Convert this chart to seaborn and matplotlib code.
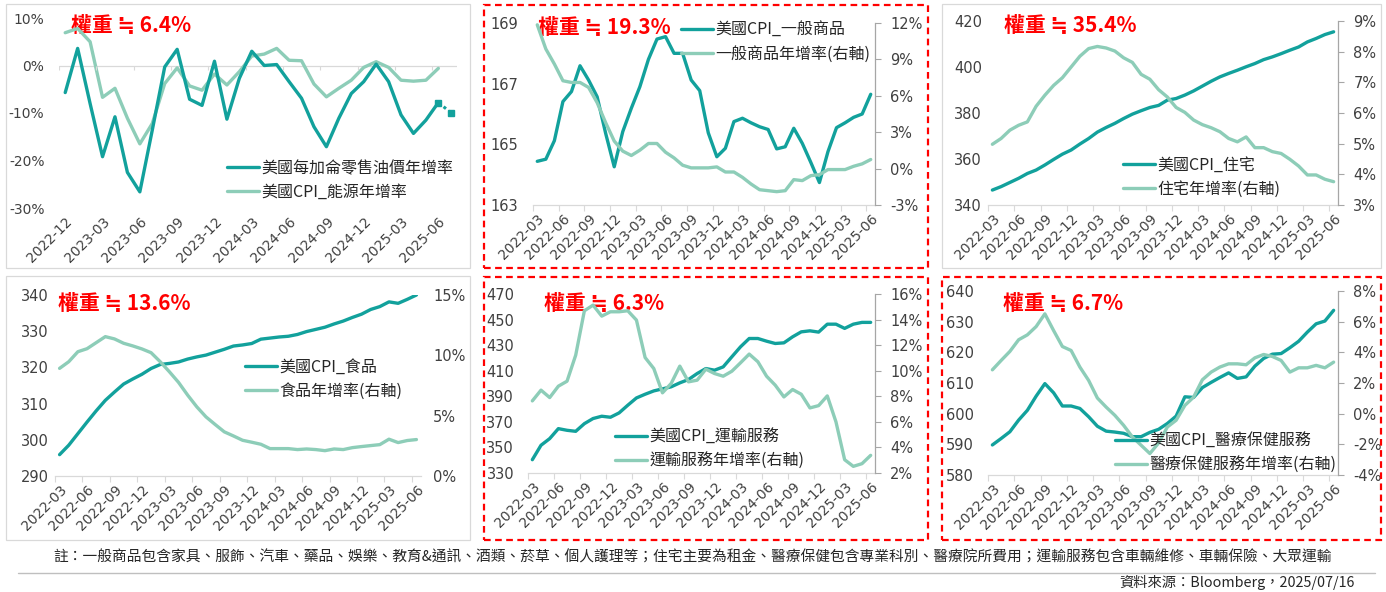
import numpy as np
import pandas as pd
import matplotlib.pyplot as plt
import seaborn as sns
from matplotlib.lines import Line2D
from matplotlib.patches import Rectangle

sns.set_theme(style="white")
plt.rcParams['font.family'] = ['Noto Sans CJK TC', 'DejaVu Sans']
plt.rcParams['axes.unicode_minus'] = False

DARK = "#12A19C"
LIGHT = "#8DCDB8"
TICK = "#404040"
NUMFONT = "DejaVu Sans"

# month labels
months_oil = pd.period_range("2022-12", "2025-07", freq="M").strftime("%Y-%m").tolist()
months = pd.period_range("2022-03", "2025-06", freq="M").strftime("%Y-%m").tolist()

# panel 1: energy
oil_yoy = [-5.7, 3.6, -8.0, -19.2, -10.8, -22.5, -26.6, -13.6, -0.3, 3.4, -7.1, -8.4,
           0.9, -11.3, -2.7, 3.0, 0.0, 0.2, -3.4, -6.9, -12.9, -17.1, -11.1, -5.9,
           -3.4, 0.3, -3.4, -10.4, -14.3, -11.5, -7.8, -9.9]
energy_yoy = [6.9, 7.8, 5.0, -6.7, -4.8, -11.1, -16.5, -12.2, -3.8, -0.5, -4.3, -5.2,
              -1.8, -4.1, -1.3, 2.0, 2.4, 3.6, 1.1, 1.0, -3.9, -6.6, -4.8, -3.1,
              -0.4, 0.8, -0.4, -3.1, -3.3, -3.1, -0.6, np.nan]

# panel 2: core goods
goods_idx = [164.44, 164.51, 165.12, 166.41, 166.74, 167.59, 167.12, 166.57, 165.36, 164.26,
             165.42, 166.19, 166.90, 167.80, 168.47, 168.55, 168.0, 168.0, 167.12, 166.77,
             165.38, 164.59, 164.87, 165.75, 165.86, 165.71, 165.58, 165.49, 164.85, 164.92,
             165.53, 165.03, 164.40, 163.74, 164.76, 165.55, 165.71, 165.89, 166.0, 166.65]
goods_yoy = [11.85, 9.86, 8.62, 7.24, 7.1, 7.1, 6.69, 5.44, 3.78, 2.27,
             1.44, 1.08, 1.52, 2.07, 2.07, 1.35, 0.88, 0.28, 0.06, 0.06,
             0.06, 0.14, -0.28, -0.28, -0.72, -1.27, -1.74, -1.82, -1.9, -1.82,
             -0.91, -0.99, -0.58, -0.5, -0.08, -0.08, -0.08, 0.19, 0.39, 0.75]

# panel 3: shelter
shelter_idx = [346.5, 348.0, 349.8, 351.6, 353.7, 355.2, 357.4, 359.8, 362.1, 363.9,
               366.5, 368.9, 371.7, 373.7, 375.5, 377.6, 379.5, 381.0, 382.4, 383.3,
               385.6, 386.3, 387.8, 389.6, 391.7, 393.8, 395.7, 397.2, 398.6, 400.1,
               401.5, 403.2, 404.4, 405.8, 407.3, 408.7, 410.9, 412.4, 414.1, 415.3]
shelter_yoy = [4.98, 5.17, 5.44, 5.6, 5.71, 6.22, 6.58, 6.9, 7.15, 7.5,
               7.85, 8.1, 8.17, 8.12, 8.02, 7.8, 7.65, 7.26, 7.1, 6.76,
               6.52, 6.18, 6.02, 5.77, 5.62, 5.52, 5.39, 5.17, 5.06, 5.22,
               4.87, 4.87, 4.74, 4.68, 4.49, 4.27, 3.98, 3.98, 3.84, 3.76]

# panel 4: food
food_idx = [295.9, 298.5, 301.7, 304.9, 308.0, 310.9, 313.2, 315.4, 316.8, 318.1,
            319.7, 320.8, 321.1, 321.5, 322.3, 322.9, 323.4, 324.2, 325.0, 325.9,
            326.2, 326.6, 327.8, 328.1, 328.4, 328.6, 329.1, 329.9, 330.5, 331.1,
            332.0, 332.8, 333.8, 334.7, 336.0, 336.8, 338.1, 337.7, 338.8, 340.0]
food_yoy = [8.92, 9.47, 10.3, 10.55, 11.05, 11.55, 11.36, 11.0, 10.78, 10.53,
            10.22, 9.47, 8.64, 7.76, 6.7, 5.73, 4.9, 4.27, 3.66, 3.32,
            2.96, 2.8, 2.63, 2.27, 2.27, 2.27, 2.19, 2.24, 2.19, 2.1,
            2.24, 2.19, 2.35, 2.44, 2.52, 2.6, 3.05, 2.77, 2.94, 3.02]

# panel 5: transportation services
transport_idx = [340.4, 351.7, 356.9, 364.7, 363.4, 362.6, 368.6, 372.6, 374.4, 373.6,
                 377.0, 383.0, 388.7, 391.6, 394.2, 395.8, 397.4, 400.5, 403.1, 407.8,
                 411.7, 410.4, 413.0, 420.9, 428.7, 435.2, 435.2, 433.1, 431.3, 431.8,
                 436.5, 440.4, 441.2, 440.2, 446.4, 446.4, 443.1, 446.4, 447.8, 447.8]
transport_yoy = [7.64, 8.48, 7.9, 8.79, 9.18, 11.22, 14.69, 15.13, 14.27, 14.61,
                 14.61, 14.69, 13.96, 11.03, 10.17, 8.27, 9.0, 10.36, 9.13, 9.26,
                 10.12, 9.78, 9.57, 9.96, 10.62, 11.3, 10.7, 9.57, 8.87, 7.95,
                 8.53, 8.16, 7.09, 7.27, 8.03, 6.0, 3.04, 2.52, 2.73, 3.38]

# panel 6: medical care services
medical_idx = [589.8, 591.9, 594.1, 597.9, 601.1, 605.7, 609.8, 606.8, 602.5, 602.5,
               601.7, 599.0, 595.9, 594.3, 594.0, 593.6, 592.5, 592.5, 593.9, 594.9,
               596.8, 599.2, 605.5, 605.3, 608.5, 610.2, 611.8, 613.3, 611.5, 612.0,
               615.5, 618.0, 619.4, 619.6, 621.5, 623.6, 626.6, 629.3, 630.2, 633.7]
medical_yoy = [2.86, 3.47, 4.06, 4.82, 5.14, 5.68, 6.51, 5.42, 4.38, 4.12,
               3.04, 2.17, 1.02, 0.43, -0.11, -0.76, -1.52, -2.06, -2.6, -1.91,
               -0.87, -0.43, 0.54, 1.08, 2.21, 2.71, 3.04, 3.25, 3.25, 3.19,
               3.64, 3.86, 3.73, 3.47, 2.71, 2.99, 2.99, 3.15, 2.99, 3.36]

note = ("註：一般商品包含家具、服飾、汽車、藥品、娛樂、教育&通訊、酒類、菸草、個人護理等；"
        "住宅主要為租金、醫療保健包含專業科別、醫療院所費用；運輸服務包含車輛維修、車輛保險、大眾運輸")
source = "資料來源：Bloomberg，2025/07/16"

W, H = 1386, 592
fig = plt.figure(figsize=(W / 100, H / 100), dpi=100)
fig.patch.set_facecolor("white")


def rect(l, t, r, b):
    return [l / W, 1 - b / H, (r - l) / W, (b - t) / H]


def set_y(ax, lim, step, suffix="", size=10.5):
    vals = np.arange(lim[0], lim[1] + step * 0.01, step)
    ax.set_ylim(*lim)
    ax.set_yticks(vals, [f"{v:.0f}{suffix}" for v in vals], fontfamily=NUMFONT,
                  fontsize=size, color=TICK)


def box(l, t, r, b, red):
    if red:
        p = Rectangle((l / W, 1 - b / H), (r - l) / W, (b - t) / H, transform=fig.transFigure,
                      fill=False, edgecolor="#FF0000", lw=1.6, linestyle=(0, (3, 2)))
    else:
        p = Rectangle((l / W, 1 - b / H), (r - l) / W, (b - t) / H, transform=fig.transFigure,
                      fill=False, edgecolor="#D9D9D9", lw=0.9)
    fig.add_artist(p)


def style_x(ax, cats, bottom_line=True):
    n = len(cats)
    ax.set_xlim(-0.5, n - 0.5)
    major = list(range(0, n, 3))
    ax.set_xticks(major, [cats[i] for i in major], rotation=45, ha="right",
                  rotation_mode="anchor", fontsize=10, color=TICK, fontfamily=NUMFONT)
    ax.tick_params(axis="x", which="major", length=0, pad=5)
    if bottom_line:
        ax.set_xticks([i - 0.5 for i in major], minor=True)
        ax.tick_params(axis="x", which="minor", length=4, color="#D9D9D9", width=0.8,
                       direction="out", bottom=True)
        ax.spines["bottom"].set_color("#D9D9D9")
        ax.spines["bottom"].set_linewidth(0.9)
    else:
        ax.spines["bottom"].set_visible(False)
    ax.set_xlabel("")


def add_title(ax, text, x, y):
    ax.text(x / W, 1 - y / H, text, transform=fig.transFigure, color="#FF0000",
            fontsize=15, fontweight="bold", ha="left", va="center", zorder=1)


def add_legend(ax, handles, x, y):
    ax.legend(handles=handles, loc="upper left", bbox_to_anchor=(x / W, 1 - y / H),
              bbox_transform=fig.transFigure, frameon=False, fontsize=11.5,
              handlelength=2.0, handletextpad=0.15, borderpad=0, borderaxespad=0,
              labelspacing=0.4, labelcolor="#262626")


# ---- panel 1 (single axis) ----
box(6, 4, 470, 268, red=False)
ax = fig.add_axes(rect(59, 18, 457, 208))
ax.patch.set_alpha(0)
df1 = pd.DataFrame({"x": range(len(months_oil)), "oil": oil_yoy, "energy": energy_yoy})
sns.lineplot(data=df1, x="x", y="energy", ax=ax, color=LIGHT, linewidth=2.4, legend=False)
sns.lineplot(data=df1.iloc[:-1], x="x", y="oil", ax=ax, color=DARK, linewidth=2.4, legend=False)
sns.lineplot(data=df1.iloc[-2:], x="x", y="oil", ax=ax, color=DARK, linewidth=2.2,
             linestyle=(0, (1, 1.2)), legend=False)
ax.plot(df1["x"].iloc[-2:], df1["oil"].iloc[-2:], linestyle="none", marker="s",
        markersize=5, color=DARK)
for ln in ax.get_lines():
    ln.set_solid_joinstyle("round")
set_y(ax, (-30, 10), 10, "%", size=10)
ax.tick_params(axis="y", length=0, pad=10.5)
ax.set_ylabel("")
style_x(ax, months_oil, bottom_line=False)
ax.axhline(0, color="#D9D9D9", lw=0.9, zorder=0.5)
ax.vlines([i - 0.5 for i in range(0, len(months_oil), 3)], -0.85, 0, color="#D9D9D9", lw=0.8)
for s in ["top", "left", "right"]:
    ax.spines[s].set_visible(False)
add_title(ax, "權重 ≒ 6.4%", 71, 25)
add_legend(ax, [Line2D([], [], color=DARK, lw=2.4, label="美國每加侖零售油價年增率"),
                Line2D([], [], color=LIGHT, lw=2.4, label="美國CPI_能源年增率")], 227, 160)


# ---- twin-axis panels ----
def panel(frame, red, area, idx, yoy, llim, lstep, rlim, rstep, lpad, rspine,
          title, tpos, labels, lpos):
    box(*frame, red=red)
    ax = fig.add_axes(rect(*area))
    ax.patch.set_alpha(0)
    df = pd.DataFrame({"x": range(len(months)), "idx": idx, "yoy": yoy})
    sns.lineplot(data=df, x="x", y="idx", ax=ax, color=DARK, linewidth=2.4, legend=False)
    set_y(ax, llim, lstep)
    ax.tick_params(axis="y", length=0, pad=lpad)
    ax.set_ylabel("")
    style_x(ax, months)
    for s in ["top", "left", "right"]:
        ax.spines[s].set_visible(False)

    ax2 = ax.twinx()
    sns.lineplot(data=df, x="x", y="yoy", ax=ax2, color=LIGHT, linewidth=2.4, legend=False)
    set_y(ax2, rlim, rstep, "%")
    ax2.set_ylabel("")
    for s in ["top", "left", "bottom"]:
        ax2.spines[s].set_visible(False)
    if rspine:
        ax2.spines["right"].set_color("#A6A6A6")
        ax2.spines["right"].set_linewidth(0.9)
        ax2.tick_params(axis="y", length=4, width=0.8, color="#A6A6A6", pad=7)
    else:
        ax2.spines["right"].set_visible(False)
        ax2.tick_params(axis="y", length=0, pad=8.7)
    for a in (ax, ax2):
        for ln in a.get_lines():
            ln.set_solid_joinstyle("round")
    add_title(ax, title, *tpos)
    add_legend(ax2, [Line2D([], [], color=DARK, lw=2.4, label=labels[0]),
                     Line2D([], [], color=LIGHT, lw=2.4, label=labels[1])], *lpos)


panel((484, 5, 928, 268), True, (533, 23, 875, 205), goods_idx, goods_yoy,
      (163, 169), 2, (-3, 12), 3, 10.8, True, "權重 ≒ 19.3%", (538, 27),
      ["美國CPI_一般商品", "一般商品年增率(右軸)"], (681, 22))
panel((942, 4, 1381, 268), False, (988, 21, 1338, 205), shelter_idx, shelter_yoy,
      (340, 420), 20, (3, 9), 1, 4.3, True, "權重 ≒ 35.4%", (1004, 26),
      ["美國CPI_住宅", "住宅年增率(右軸)"], (1123, 157))
panel((6, 276, 470, 540), False, (55, 295, 421, 476), food_idx, food_yoy,
      (290, 340), 10, (0, 15), 5, 4.3, False, "權重 ≒ 13.6%", (58, 303),
      ["美國CPI_食品", "食品年增率(右軸)"], (245, 359))
panel((484, 277, 928, 540), True, (528, 294, 875, 473), transport_idx, transport_yoy,
      (330, 470), 20, (2, 16), 2, 10, True, "權重 ≒ 6.3%", (544, 303),
      ["美國CPI_運輸服務", "運輸服務年增率(右軸)"], (615, 429))
panel((942, 277, 1381, 540), True, (988, 291, 1338, 475), medical_idx, medical_yoy,
      (580, 640), 10, (-4, 8), 2, 10, True, "權重 ≒ 6.7%", (1003, 303),
      ["美國CPI_醫療保健服務", "醫療保健服務年增率(右軸)"], (1115, 433))

# footer
fig.text(0.5, 1 - 557 / H, note, ha="center", va="center", fontsize=10.6, color="#262626")
fig.add_artist(Line2D([18 / W, 1375 / W], [1 - 573 / H] * 2, color="#BFBFBF", lw=1.0))
fig.text(1355 / W, 1 - 582 / H, source, ha="right", va="center", fontsize=10.3, color="#262626")

fig.savefig("out.png", dpi=100, facecolor="white")
